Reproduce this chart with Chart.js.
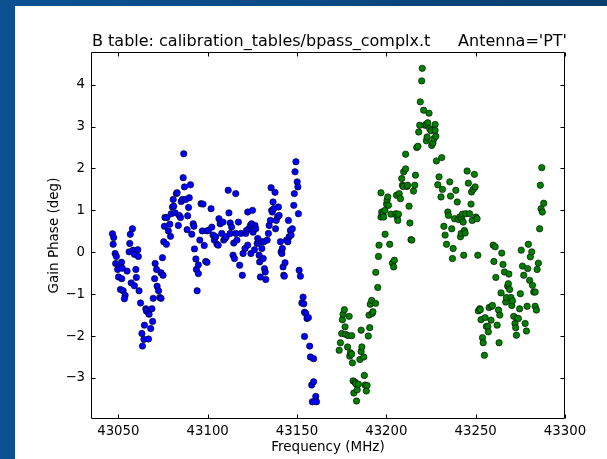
<!DOCTYPE html>
<html>
<head>
<meta charset="utf-8">
<script src="https://cdn.jsdelivr.net/npm/chart.js@4.4.0/dist/chart.umd.min.js"></script>
<style>
    html, body {
        margin: 0;
        padding: 0;
        width: 607px;
        height: 459px;
        overflow: hidden;
        background: linear-gradient(to right, #0b5192 0%, #0a4b86 45%, #0a3e6e 100%);
    }
    canvas { display: block; }
</style>
</head>
<body>
<canvas id="bpass-phase" width="607" height="459"></canvas>
<script>
// axis setup
const xTicks = [43050, 43100, 43150, 43200, 43250, 43300];
const yTicks = [-3, -2, -1, 0, 1, 2, 3, 4];
const xRange = [43034.7, 43300];
const yRange = [-3.98, 4.78];

const titleText = 'B table: calibration_tables/bpass_complx.t';
const antennaText = "Antenna='PT'";
const xLabel = 'Frequency (MHz)';
const yLabel = 'Gain Phase (deg)';

// first spectral window (blue)
const blueFreq = [
    43046.7, 43047.4, 43047.1, 43048.2, 43048.9, 43048.5, 43050.4, 43049.6, 43051.8, 43052.2,
    43050.1, 43051.9, 43051.2, 43052.7, 43053.8, 43053.4, 43054.9, 43056.4, 43056.0, 43056.7,
    43057.9, 43058.3, 43059.0, 43060.9, 43061.2, 43059.8, 43060.1, 43057.2, 43059.0, 43061.6,
    43062.4, 43063.2, 43063.5, 43064.3, 43064.6, 43065.4, 43065.7, 43066.9, 43067.2, 43066.9,
    43068.1, 43068.8, 43069.2, 43069.5, 43070.3, 43070.6, 43071.4, 43071.7, 43072.5, 43073.2,
    43073.9, 43073.9, 43074.7, 43075.0, 43075.4, 43075.8, 43076.9, 43076.1, 43077.2, 43078.0,
    43078.8, 43079.2, 43079.6, 43080.3, 43080.7, 43081.0, 43081.8, 43082.5, 43082.9, 43083.6,
    43084.1, 43084.8, 43085.2, 43085.9, 43086.3, 43086.6, 43087.0, 43087.7, 43088.5, 43088.8,
    43089.3, 43089.7, 43090.4, 43091.1, 43091.9, 43092.3, 43092.6, 43093.4, 43093.7, 43094.1,
    43094.8, 43094.8, 43095.6, 43096.3, 43097.4, 43097.0, 43098.1, 43098.9, 43099.6, 43099.6,
    43100.4, 43101.9, 43102.3, 43103.0, 43103.7, 43104.5, 43105.2, 43106.3, 43105.9, 43107.0,
    43107.9, 43108.6, 43109.0, 43109.7, 43110.4, 43111.5, 43111.9, 43112.6, 43112.6, 43113.4,
    43114.2, 43114.6, 43115.0, 43115.7, 43115.7, 43116.4, 43117.2, 43117.9, 43118.6, 43119.4,
    43119.8, 43120.9, 43121.3, 43121.7, 43122.4, 43122.4, 43123.1, 43123.9, 43124.2, 43124.6,
    43125.1, 43125.4, 43126.2, 43126.5, 43126.9, 43127.7, 43128.0, 43128.8, 43129.1, 43129.5,
    43130.0, 43130.3, 43131.1, 43131.4, 43131.8, 43132.2, 43132.5, 43133.3, 43134.0, 43134.4,
    43135.1, 43135.5, 43135.8, 43136.2, 43136.6, 43136.9, 43137.7, 43138.0, 43138.4, 43139.1,
    43139.6, 43140.0, 43140.7, 43141.1, 43141.5, 43141.8, 43142.2, 43142.6, 43142.9, 43143.3,
    43144.1, 43144.9, 43145.2, 43145.6, 43146.3, 43146.7, 43147.4, 43148.2, 43148.5, 43148.9,
    43149.4, 43150.1, 43150.5, 43150.8, 43151.2, 43151.9, 43152.7, 43153.4, 43153.8, 43154.2,
    43154.9, 43155.6, 43156.4, 43154.2, 43157.1, 43157.5, 43159.3, 43158.2, 43159.3, 43158.6,
    43160.5, 43160.9
];
const bluePhase = [
    0.44, 0.35, 0.19, -0.03, -0.10, -0.27, -0.35, -0.41, -0.24, -0.38,
    -0.59, -0.63, -0.89, -0.92, -1.03, -1.11, -0.45, 0.21, 0.01, 0.43,
    0.56, 0.05, -0.05, 0.06, -0.10, -0.41, -0.60, -0.73, -0.80, -0.92,
    -1.21, -1.94, -2.24, -2.08, -1.74, -1.35, -1.40, -1.45, -1.48, -2.07,
    -1.82, -1.35, -1.65, -1.10, -0.63, -0.27, -0.41, -0.81, -0.92, -1.08,
    -1.10, -0.49, -0.13, -0.55, 0.25, 0.62, 0.19, 0.83, 0.83, 0.51,
    0.67, 0.38, 0.92, 1.08, 1.26, 1.10, 0.94, 1.40, 1.42, 0.64,
    0.88, 0.83, 1.21, 1.26, 1.78, 2.35, 1.56, 1.26, 0.54, 0.87,
    1.07, 1.30, 1.61, 0.43, 0.68, 0.62, 0.08, -0.16, -0.41, -0.92,
    -0.51, -0.30, 0.29, 1.16, 1.15, 0.51, 0.16, -0.22, -0.24, 0.51,
    0.52, 1.04, 0.60, 0.41, 0.29, 0.37, 0.19, 0.80, 0.17, 0.68,
    0.45, 0.72, 0.29, 0.33, 0.37, 1.48, 0.94, 0.70, 0.45, 0.60,
    -0.07, 0.22, -0.15, 1.40, 0.45, 0.29, 0.72, -0.31, 0.45, -0.55,
    -0.03, 0.09, 0.45, 0.52, 0.96, 0.17, 0.56, 0.64, -0.03, 0.68,
    1.00, 0.48, 0.06, 0.64, 0.56, 0.21, 0.33, -0.07, -0.23, -0.59,
    0.25, 0.09, -0.15, 0.25, -0.39, -0.47, -0.65, 0.29, 0.45, 0.64,
    0.76, 1.54, 1.00, 0.96, 1.20, 1.04, 1.43, 0.56, 0.76, 0.84,
    1.08, 0.88, 0.25, 0.01, -0.03, 0.09, -0.35, -0.55, -0.57, -0.25,
    0.29, 0.25, 0.76, 0.37, 0.52, 0.41, 0.56, 1.12, 1.40, 1.92,
    2.16, 1.68, 1.56, 0.92, -0.43, -0.57, -1.21, -1.07, -1.23, -1.43,
    -1.46, -1.58, -1.56, -2.01, -2.24, -2.50, -2.54, -3.17, -3.09, -3.57,
    -3.44, -3.57
];

// second spectral window (green)
const greenFreq = [
    43173.6, 43174.3, 43175.0, 43175.4, 43175.8, 43176.5, 43176.9, 43177.2, 43178.3, 43178.7,
    43179.2, 43179.5, 43179.9, 43180.6, 43180.6, 43181.0, 43181.4, 43181.8, 43182.5, 43182.9,
    43183.3, 43183.7, 43184.4, 43185.2, 43185.9, 43185.9, 43186.3, 43187.4, 43187.7, 43188.1,
    43188.8, 43189.2, 43189.9, 43190.3, 43190.7, 43191.0, 43191.8, 43192.1, 43192.5, 43194.0,
    43194.1, 43195.2, 43195.6, 43195.9, 43197.0, 43197.4, 43197.0, 43198.1, 43198.5, 43199.2,
    43199.3, 43200.1, 43200.4, 43200.8, 43201.2, 43201.9, 43202.6, 43203.4, 43204.1, 43204.5,
    43205.3, 43205.7, 43206.0, 43206.4, 43206.8, 43207.2, 43207.9, 43208.6, 43209.0, 43209.4,
    43209.7, 43210.8, 43210.8, 43211.6, 43211.9, 43212.7, 43213.2, 43213.8, 43214.3, 43215.2,
    43215.9, 43216.3, 43217.0, 43217.7, 43218.1, 43218.7, 43219.0, 43219.8, 43220.1, 43220.9,
    43221.7, 43222.1, 43222.4, 43222.8, 43223.2, 43223.9, 43224.3, 43225.0, 43225.4, 43226.1,
    43226.6, 43227.3, 43227.3, 43227.7, 43228.0, 43229.5, 43228.8, 43231.0, 43231.4, 43230.6,
    43232.2, 43232.9, 43233.7, 43234.4, 43234.8, 43235.5, 43235.9, 43236.6, 43237.4, 43237.0,
    43238.2, 43238.9, 43239.7, 43240.4, 43241.1, 43241.5, 43241.9, 43242.2, 43242.6, 43243.0,
    43243.3, 43243.7, 43244.1, 43244.4, 43245.2, 43245.9, 43246.6, 43247.4, 43247.7, 43248.1,
    43248.6, 43249.3, 43249.7, 43250.1, 43250.8, 43251.2, 43251.5, 43252.3, 43252.6, 43253.0,
    43253.8, 43254.2, 43254.9, 43255.3, 43256.0, 43256.8, 43257.1, 43257.5, 43258.6, 43259.0,
    43259.4, 43259.8, 43260.9, 43260.2, 43261.3, 43262.0, 43262.8, 43263.1, 43263.5, 43264.2,
    43264.6, 43265.3, 43266.1, 43266.8, 43267.2, 43267.9, 43268.3, 43268.6, 43269.0, 43269.7,
    43270.2, 43270.6, 43271.3, 43272.0, 43272.4, 43272.8, 43273.1, 43273.9, 43274.6, 43275.0,
    43275.5, 43276.2, 43276.9, 43277.7, 43278.4, 43278.8, 43279.1, 43279.5, 43280.2, 43280.6,
    43281.4, 43281.8, 43282.5, 43283.3, 43283.3, 43284.0, 43284.4, 43285.1, 43285.8, 43286.2,
    43287.0, 43286.6, 43287.3, 43288.1
];
const greenPhase = [
    -2.34, -2.16, -1.94, -1.61, -1.48, -1.37, -1.78, -1.96, -2.26, -1.99,
    -1.53, -2.48, -2.40, -2.43, -1.99, -2.64, -3.07, -3.36, -3.10, -3.14,
    -3.55, -3.28, -3.15, -2.56, -1.86, -2.37, -2.26, -2.50, -2.94, -3.17,
    -3.31, -3.18, -2.00, -1.50, -1.80, -1.24, -1.15, -1.46, -1.42, -1.22,
    -0.48, -0.84, -0.10, 0.17, 0.84, 0.96, 1.42, 0.91, 0.84, 1.00,
    0.43, 1.15, 1.24, 1.32, 1.12, 0.19, 0.91, -0.26, -0.35, -0.19,
    0.92, 1.36, 0.84, 0.76, 0.91, 1.40, 1.28, 1.76, 1.60, 1.57,
    1.92, 1.99, 2.34, 1.57, 1.60, 1.10, 0.70, 0.30, 0.29, 1.46,
    1.60, 1.84, 2.50, 2.53, 2.87, 3.03, 3.59, 4.09, 4.39, 3.39,
    3.03, 3.05, 2.66, 2.75, 3.09, 3.32, 2.95, 2.90, 2.55, 2.61,
    2.71, 2.91, 3.05, 2.77, 2.18, 1.80, 1.61, 2.26, 1.50, 1.32,
    0.62, 0.41, 0.19, 0.96, 0.88, 1.68, 1.34, 0.56, 0.09, -0.15,
    0.80, 1.48, 1.20, 0.78, 0.84, 0.37, 0.45, 0.80, 0.91, 0.72,
    -0.07, 0.52, 0.46, 0.92, 1.94, 1.65, 0.92, 1.15, 1.44, 0.76,
    1.50, 1.86, 1.56, 0.84, 0.80, -0.07, -1.40, -1.35, -1.37, -1.61,
    -2.04, -2.16, -2.46, -1.56, -1.77, -1.77, -1.90, -1.32, -1.62, -1.29,
    -1.27, 0.17, 0.13, -0.22, -0.60, -1.74, -1.38, -2.16, -1.50, -0.97,
    -0.02, -0.29, -0.47, -1.19, -1.08, -0.81, -0.75, -0.52, -0.89, -1.08,
    -1.27, -1.16, -1.53, -1.70, -1.80, -1.98, -1.58, -1.58, -1.35, -0.99,
    0.05, -0.33, -0.55, -1.70, -1.88, -1.29, -0.39, 0.19, -0.67, -0.11,
    0.01, -0.79, -0.95, -0.95, -1.29, -1.38, -0.41, -0.26, 0.56, 1.60,
    2.02, 1.04, 0.96, 1.17
];

const FONT = '"DejaVu Sans", sans-serif';
Chart.defaults.font.family = FONT;
Chart.defaults.color = '#000';

function toPoints(freq, phase) {
    return freq.map((f, i) => ({ x: f, y: phase[i] }));
}

// white figure area, the blue slide shows round it
const backdrop = {
    id: 'backdrop',
    beforeDraw(chart) {
        const ctx = chart.ctx;
        ctx.save();
        ctx.fillStyle = '#ffffff';
        ctx.fillRect(15, 6, chart.width - 15, chart.height - 6);
        ctx.restore();
    }
};

// matplotlib style box, inward ticks on all sides, title and axis labels
const frame = {
    id: 'frame',
    afterDraw(chart) {
        const ctx = chart.ctx;
        const a = chart.chartArea;
        const sx = chart.scales.x, sy = chart.scales.y;
        const l = Math.round(a.left) + 0.5, r = Math.round(a.right) - 0.5;
        const t = Math.round(a.top) + 0.5, b = Math.round(a.bottom) - 0.5;
        ctx.save();
        ctx.strokeStyle = '#000';
        ctx.lineWidth = 1;
        ctx.beginPath();
        ctx.rect(l, t, r - l, b - t);
        xTicks.forEach(v => {
            const px = Math.round(sx.getPixelForValue(v)) + 0.5;
            ctx.moveTo(px, b); ctx.lineTo(px, b - 4);
            ctx.moveTo(px, t); ctx.lineTo(px, t + 4);
        });
        yTicks.forEach(v => {
            const py = Math.round(sy.getPixelForValue(v)) + 0.5;
            ctx.moveTo(l, py); ctx.lineTo(l + 4, py);
            ctx.moveTo(r, py); ctx.lineTo(r - 4, py);
        });
        ctx.stroke();

        ctx.fillStyle = '#000';
        ctx.font = '16px ' + FONT;
        ctx.textBaseline = 'alphabetic';
        ctx.textAlign = 'left';
        ctx.fillText(titleText, a.left + 1, a.top - 6);
        ctx.textAlign = 'right';
        ctx.fillText(antennaText, a.right + 2, a.top - 6);

        ctx.font = '13.5px ' + FONT;
        ctx.textAlign = 'center';
        ctx.textBaseline = 'middle';
        ctx.fillText(xLabel, (a.left + a.right) / 2, a.bottom + 28);
        ctx.translate(a.left - 37, (a.top + a.bottom) / 2);
        ctx.rotate(-Math.PI / 2);
        ctx.fillText(yLabel, 0, 0);
        ctx.restore();
    }
};

new Chart(document.getElementById('bpass-phase'), {
    type: 'scatter',
    data: {
        datasets: [
            {
                label: 'spw 0',
                data: toPoints(blueFreq, bluePhase),
                backgroundColor: '#0000ff',
                borderColor: '#000000',
                borderWidth: 0.6,
                pointRadius: 3.2
            },
            {
                label: 'spw 1',
                data: toPoints(greenFreq, greenPhase),
                backgroundColor: '#008000',
                borderColor: '#000000',
                borderWidth: 0.6,
                pointRadius: 3.2
            }
        ]
    },
    options: {
        responsive: false,
        animation: false,
        layout: { padding: { left: 15, top: 52, right: 42, bottom: 0 } },
        plugins: {
            legend: { display: false },
            tooltip: { enabled: false },
            title: { display: false }
        },
        scales: {
            x: {
                type: 'linear',
                min: xRange[0],
                max: xRange[1],
                grid: { display: false, drawTicks: false },
                border: { display: false },
                ticks: {
                    padding: 5,
                    maxRotation: 0,
                    autoSkip: false,
                    font: { size: 13.3 },
                    callback: v => String(v)
                },
                afterBuildTicks: s => { s.ticks = xTicks.map(v => ({ value: v })); },
                afterFit: s => { s.height = 40; }
            },
            y: {
                type: 'linear',
                min: yRange[0],
                max: yRange[1],
                grid: { display: false, drawTicks: false },
                border: { display: false },
                ticks: {
                    padding: 6,
                    font: { size: 13.3 },
                    callback: v => (v < 0 ? '\u2212' + Math.abs(v) : String(v))
                },
                afterBuildTicks: s => { s.ticks = yTicks.map(v => ({ value: v })); },
                afterFit: s => { s.width = 76; }
            }
        }
    },
    plugins: [backdrop, frame]
});
</script>
</body>
</html>
